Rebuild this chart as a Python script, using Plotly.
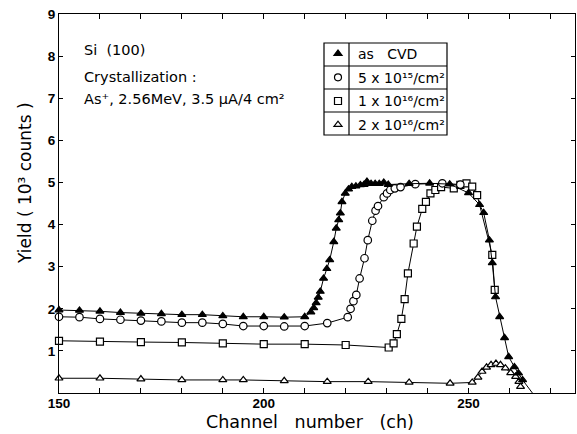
import plotly.graph_objects as go

# ---- RBS yield spectra (10^3 counts) vs channel number ----
cvd_ch = [150, 155, 160, 165, 170, 175, 180, 185, 190, 195, 200, 205, 210,
          211.5, 212.2, 212.8, 213.3, 213.8, 214.6, 215.4, 216.1, 217.1, 217.7,
          218.3, 218.7, 219.1, 219.9, 220.7, 221.5, 222.5, 223.6, 224.5, 225.2,
          226.2, 227.2, 228.2, 229.3, 230.4, 235.5, 240.5, 245.4, 250.0, 252.7,
          253.7, 255.1, 255.8, 256.6, 257.6, 258.8, 259.8, 261.2, 262.2, 263.2]
cvd_y = [1.97, 1.96, 1.94, 1.91, 1.89, 1.88, 1.86, 1.86, 1.83, 1.81, 1.81, 1.80, 1.81,
         1.92, 2.02, 2.14, 2.27, 2.41, 2.72, 2.95, 3.16, 3.59, 3.91,
         4.11, 4.27, 4.54, 4.74, 4.84, 4.90, 4.91, 4.94, 4.95, 5.02,
         4.97, 4.97, 4.97, 5.00, 4.95, 4.97, 4.98, 4.96, 4.75, 4.47,
         4.28, 3.63, 3.09, 2.28, 1.81, 1.31, 0.86, 0.62, 0.47, 0.31]
# trailing edge of the as-CVD curve down to the baseline
cvd_tail_ch = [263.2, 265.6]
cvd_tail_y = [0.31, 0.0]

d5e15_ch = [150, 155, 160, 165, 170, 175, 180, 185, 190, 195, 200, 205, 210,
            215.5, 220.5, 221.2, 221.9, 222.6, 223.4, 224.6, 225.4, 226.5, 227.3,
            227.9, 229.3, 230.1, 230.9, 232.0, 233.4, 237.0, 243.6, 248.0]
d5e15_y = [1.81, 1.80, 1.76, 1.74, 1.72, 1.70, 1.67, 1.67, 1.64, 1.59, 1.59, 1.58, 1.59,
           1.66, 1.80, 2.00, 2.18, 2.33, 2.72, 3.20, 3.63, 4.09, 4.33,
           4.44, 4.65, 4.74, 4.82, 4.86, 4.89, 4.96, 4.98, 4.95]

d1e16_ch = [150, 160, 170, 180, 190, 200, 210, 220, 230.5, 231.7, 232.5, 233.6,
            234.4, 235.2, 236.6, 237.4, 238.7, 239.6, 240.7, 241.9, 243.3, 246.4,
            248.0, 249.5, 250.9, 252.1, 255.8, 256.4]
d1e16_y = [1.24, 1.22, 1.21, 1.20, 1.18, 1.16, 1.16, 1.14, 1.08, 1.18, 1.40, 1.76,
           2.23, 2.84, 3.55, 3.95, 4.37, 4.54, 4.74, 4.82, 4.89, 4.86,
           4.94, 4.98, 4.90, 4.70, 3.28, 2.45]

d2e16_ch = [150, 160, 170, 180, 190, 195, 205, 215.5, 225.5, 235.5, 245.5, 250.9,
            252.3, 253.3, 254.4, 255.5, 256.7, 257.8, 259.0, 260.3, 261.5, 262.3, 262.7]
d2e16_y = [0.35, 0.35, 0.33, 0.31, 0.31, 0.31, 0.29, 0.27, 0.27, 0.25, 0.23, 0.25,
           0.37, 0.51, 0.61, 0.67, 0.70, 0.67, 0.59, 0.48, 0.39, 0.27, 0.15]

legend_names = ["as\u00a0\u00a0 CVD", "5 x 10\u00b9\u2075/cm\u00b2",
                "1 x 10\u00b9\u2076/cm\u00b2", "2 x 10\u00b9\u2076/cm\u00b2"]

x_tick_vals = list(range(150, 271, 10))
x_tick_text = ["150" if v == 150 else "200" if v == 200 else "250" if v == 250 else ""
               for v in x_tick_vals]
y_tick_vals = list(range(0, 10))
y_tick_text = [""] + [str(v) for v in range(1, 10)]

# ---- figure geometry (pixels) ----
W, H = 577, 434
L, R, T, B = 59, 2, 14, 41
PW, PH = W - L - R, H - T - B


def px(xp):
    return (xp - L) / PW


def py(yp):
    return (H - B - yp) / PH


TEXT_FONT = "DejaVu Sans"
TICK_FONT = dict(family="Liberation Sans", size=13.5, color="black", weight="bold")

fig = go.Figure()

series = [
    (d2e16_ch, d2e16_y, "triangle-up-open", 7),
    (d1e16_ch, d1e16_y, "square-open", 7),
    (d5e15_ch, d5e15_y, "circle-open", 7.5),
    (cvd_ch, cvd_y, "triangle-up", 7),
]
for xs, ys, sym, sz in series:
    filled = not sym.endswith("open")
    fig.add_trace(go.Scatter(
        x=xs, y=ys, mode="lines+markers",
        line=dict(color="black", width=1),
        marker=dict(symbol=sym.replace("-open", ""), size=sz,
                    color="black" if filled else "white",
                    line=dict(color="black", width=1.2)),
        showlegend=False, cliponaxis=False, hoverinfo="skip"))

fig.add_trace(go.Scatter(x=cvd_tail_ch, y=cvd_tail_y, mode="lines",
                         line=dict(color="black", width=1),
                         showlegend=False, cliponaxis=False, hoverinfo="skip"))

# legend entries (symbol only), one group per row of the table
legend_syms = [("triangle-up", "black"), ("circle", "white"),
               ("square", "white"), ("triangle-up", "white")]
for i, (name, (sym, fill)) in enumerate(zip(legend_names, legend_syms)):
    fig.add_trace(go.Scatter(
        x=[None], y=[None], mode="markers", name=name, legendgroup=f"row{i}",
        marker=dict(symbol=sym, size=7, color=fill,
                    line=dict(color="black", width=1.2))))

# legend table frame
box_l, box_r, box_t, box_b = 324, 447, 43, 135
shapes = [dict(type="rect", xref="paper", yref="paper",
               x0=px(box_l), x1=px(box_r), y0=py(box_b), y1=py(box_t),
               line=dict(color="black", width=1.2))]
shapes.append(dict(type="line", xref="paper", yref="paper",
                   x0=px(349), x1=px(349), y0=py(box_b), y1=py(box_t),
                   line=dict(color="black", width=1.2)))
for yp in (66, 89, 112):
    shapes.append(dict(type="line", xref="paper", yref="paper",
                       x0=px(box_l), x1=px(box_r), y0=py(yp), y1=py(yp),
                       line=dict(color="black", width=1.2)))

annotations = [
    dict(text="Si\u00a0\u00a0(100)", x=px(82), y=py(50)),
    dict(text="Crystallization :", x=px(82), y=py(77)),
    dict(text="As\u207a, 2.56MeV, 3.5 \u03bcA/4 cm\u00b2", x=px(82), y=py(99)),
]
for a in annotations:
    a.update(xref="paper", yref="paper", xanchor="left", yanchor="middle",
             showarrow=False, font=dict(family=TEXT_FONT, size=14.5, color="black"))

annotations.append(dict(
    text="Channel\u00a0\u00a0 number\u00a0\u00a0 (ch)", x=px(310), y=py(422),
    xref="paper", yref="paper", xanchor="center", yanchor="middle",
    showarrow=False, font=dict(family=TEXT_FONT, size=17.5, color="black")))
annotations.append(dict(
    text="Yield ( 10\u00b3 counts )", x=px(25), y=py(183), textangle=-90,
    xref="paper", yref="paper", xanchor="center", yanchor="middle",
    showarrow=False, font=dict(family=TEXT_FONT, size=17, color="black")))

fig.update_layout(
    width=W, height=H,
    margin=dict(l=L, r=R, t=T, b=B, pad=0),
    paper_bgcolor="white", plot_bgcolor="white",
    shapes=shapes, annotations=annotations,
    legend=dict(x=px(318), y=py(38), xanchor="left", yanchor="top",
                bgcolor="rgba(0,0,0,0)", borderwidth=0,
                font=dict(family=TEXT_FONT, size=14, color="black"),
                tracegroupgap=2.5, itemwidth=30),
    xaxis=dict(range=[150, 276], tickvals=x_tick_vals, ticktext=x_tick_text,
               ticks="inside", ticklen=5, tickwidth=1, tickcolor="black",
               showline=True, linecolor="black", linewidth=1.2, mirror="ticks",
               showgrid=False, zeroline=False, tickfont=TICK_FONT,
               ticklabelstandoff=-2),
    yaxis=dict(range=[0, 9], tickvals=y_tick_vals, ticktext=y_tick_text,
               ticks="inside", ticklen=4, tickwidth=1, tickcolor="black",
               showline=True, linecolor="black", linewidth=1.2, mirror="ticks",
               showgrid=False, zeroline=False, tickfont=TICK_FONT),
)

fig.write_html("out.html")
